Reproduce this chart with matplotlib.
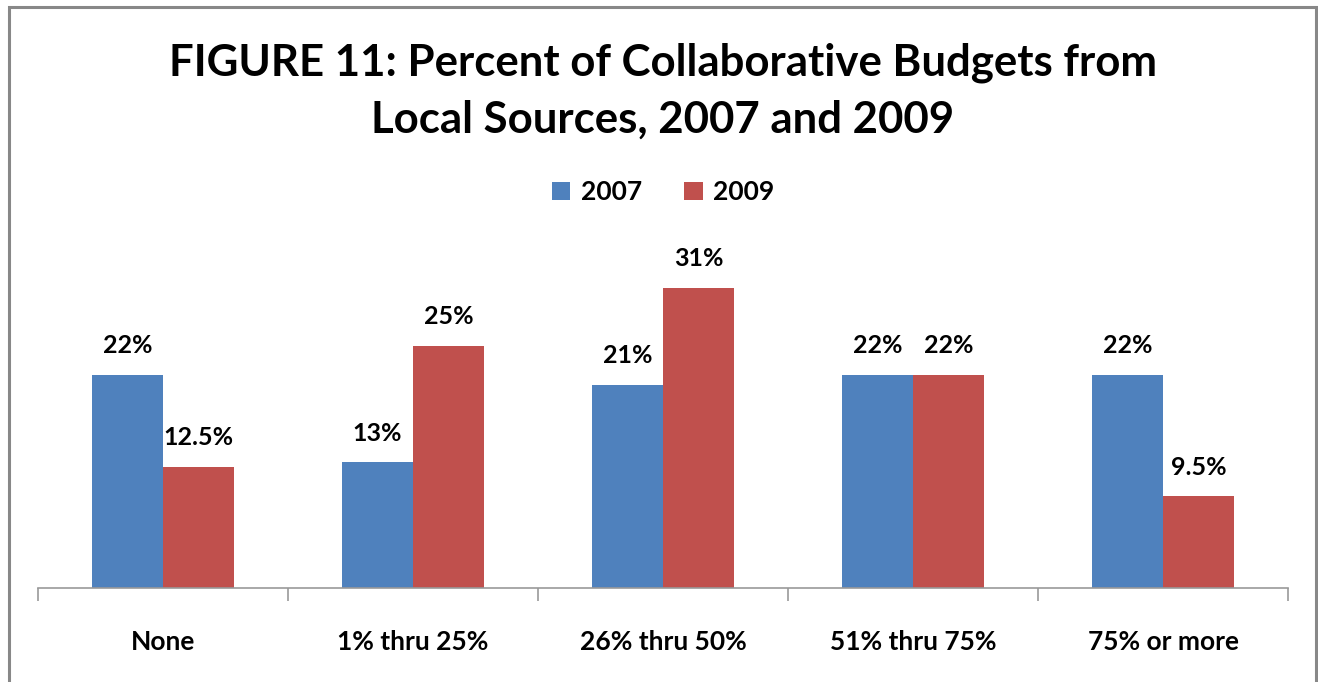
import numpy as np
import matplotlib
matplotlib.use("Agg")
from matplotlib import pyplot as plt
from matplotlib.patches import Rectangle

categories = ["None", "1% thru 25%", "26% thru 50%", "51% thru 75%", "75% or more"]
values_2007 = [22, 13, 21, 22, 22]
values_2009 = [12.5, 25, 31, 22, 9.5]
labels_2007 = ["22%", "13%", "21%", "22%", "22%"]
labels_2009 = ["12.5%", "25%", "31%", "22%", "9.5%"]

blue = "#4F81BD"
red = "#C0504D"

plt.rcParams["font.family"] = ["Lato", "DejaVu Sans"]

fig = plt.figure(figsize=(13.18, 6.82), dpi=100)
ax = fig.add_axes([38/1318, 94/682, 1250/1318, 339/682])

x = np.arange(len(categories))
w = 0.284
ax.bar(x - w/2, values_2007, w, color=blue, label="2007")
ax.bar(x + w/2, values_2009, w, color=red, label="2009")

for xi, v, t in zip(x, values_2007, labels_2007):
    ax.text(xi - w/2, v + 1.8, t, ha="center", va="bottom", fontsize=18, fontweight="bold")
for xi, v, t in zip(x, values_2009, labels_2009):
    ax.text(xi + w/2, v + 1.8, t, ha="center", va="bottom", fontsize=18, fontweight="bold")

ax.set_xlim(-0.5, len(categories) - 0.5)
ax.set_ylim(0, 35)
ax.set_yticks([])
for s in ["left", "right", "top"]:
    ax.spines[s].set_visible(False)
ax.spines["bottom"].set_color("#999999")
ax.spines["bottom"].set_linewidth(1.2)

ax.set_xticks(np.arange(-0.5, len(categories)), minor=False)
ax.set_xticklabels([])
ax.tick_params(axis="x", which="major", length=9, color="#999999", width=1.2, direction="out")
ax.set_xticks(x, minor=True)
ax.set_xticklabels(categories, minor=True, fontsize=19, fontweight="bold")
ax.tick_params(axis="x", which="minor", length=0, pad=30)

fig.text(663/1318, 1 - 91/682, "FIGURE 11: Percent of Collaborative Budgets from\nLocal Sources, 2007 and 2009",
         ha="center", va="center", fontsize=31.5, fontweight="bold", linespacing=1.5)

ax.legend(loc="center", bbox_to_anchor=(663/1318, 1 - 192/682), bbox_transform=fig.transFigure,
          ncol=2, frameon=False, prop={"size": 19, "weight": "bold"},
          handlelength=0.7, handleheight=0.7, handletextpad=0.4, columnspacing=1.6)

fig.patches.append(Rectangle((9/1318, -0.1), 1307/1318, 1.1 - 7/682, transform=fig.transFigure,
                             fill=False, edgecolor="#888888", linewidth=2.2))

fig.savefig("out.png", dpi=100)
